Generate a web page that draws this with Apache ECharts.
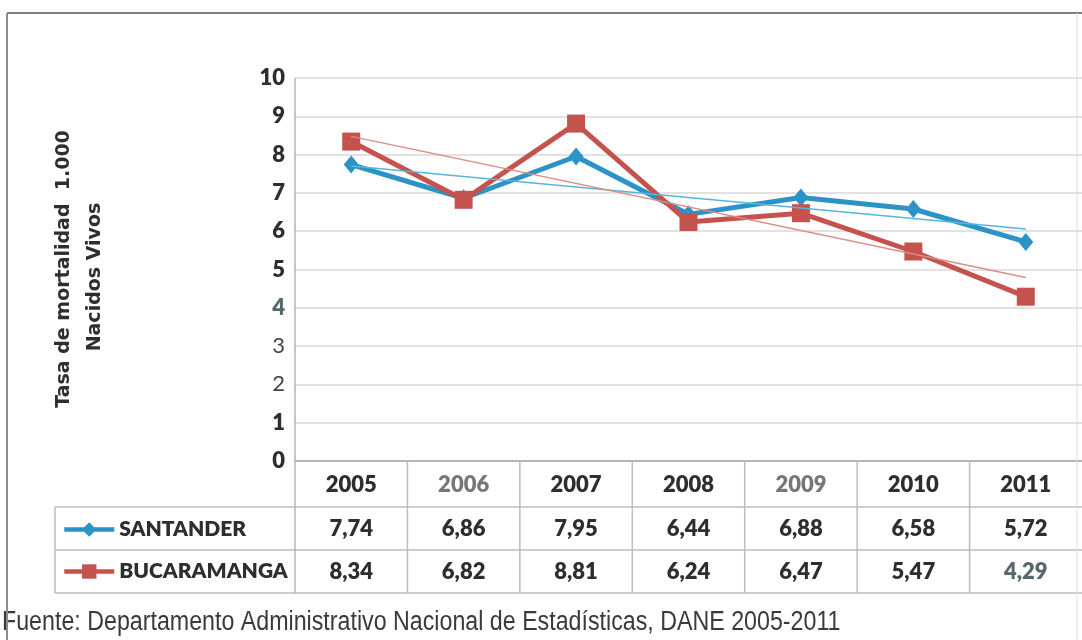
<!DOCTYPE html>
<html>
<head>
<meta charset="utf-8">
<script src="https://cdn.jsdelivr.net/npm/echarts@6/dist/echarts.min.js"></script>
<style>
  html, body { margin: 0; padding: 0; background: #ffffff; }
  #chart { width: 1082px; height: 640px; }
</style>
</head>
<body>
<div id="chart"></div>
<script>
// ---- data ----
const years = ['2005', '2006', '2007', '2008', '2009', '2010', '2011'];
const santander = [7.74, 6.86, 7.95, 6.44, 6.88, 6.58, 5.72];
const bucaramanga = [8.34, 6.82, 8.81, 6.24, 6.47, 5.47, 4.29];
const yTickLabels = ['0', '1', '2', '3', '4', '5', '6', '7', '8', '9', '10'];
const seriesNames = ['SANTANDER', 'BUCARAMANGA'];
const axisTitleLines = ['Tasa de mortalidad  1.000', 'Nacidos Vivos'];
const sourceNote = 'Fuente: Departamento Administrativo Nacional de Estadísticas, DANE 2005-2011';

// ---- style ----
const BLUE = '#2b93c6';
const RED = '#c4534d';
const BLUE_TREND = '#59b4dc';
const RED_TREND = '#dc8d86';
const TEXT = '#2e2e2e';
const LABEL_FONT = 'Lato, "Open Sans", sans-serif';
const LABEL_WEIGHT = 800;
const LABEL_SIZE = 22;

// least-squares linear trend, returned as its two end values
function linearTrend(values) {
  const n = values.length;
  const mx = (n - 1) / 2;
  const my = values.reduce((s, v) => s + v, 0) / n;
  let sxy = 0, sxx = 0;
  values.forEach((v, i) => { sxy += (i - mx) * (v - my); sxx += (i - mx) * (i - mx); });
  const slope = sxy / sxx;
  const out = values.map(() => null);
  out[0] = my - slope * mx;
  out[n - 1] = my + slope * (n - 1 - mx);
  return out;
}

const fmt = v => v.toFixed(2).replace('.', ',');

const chart = echarts.init(document.getElementById('chart'), null, { renderer: 'canvas' });

const option = {
  animation: false,
  backgroundColor: '#ffffff',
  grid: { left: 295, right: -6, top: 78, bottom: 179, containLabel: false },
  legend: {
    data: seriesNames,
    orient: 'vertical',
    left: 57,
    top: 514,
    padding: 5,
    itemWidth: 50,
    itemHeight: 18,
    itemGap: 21,
    selectedMode: false,
    lineStyle: { width: 4.5 },
    textStyle: { fontFamily: LABEL_FONT, fontWeight: LABEL_WEIGHT, fontSize: 21, color: TEXT }
  },
  xAxis: {
    type: 'category',
    data: years,
    boundaryGap: true,
    axisLine: { show: true, lineStyle: { color: '#a6a6a6', width: 1.5 } },
    axisTick: { show: false },
    axisLabel: {
      margin: 13,
      formatter: v => (v === '2006' || v === '2009') ? `{soft|${v}}` : `{hard|${v}}`,
      rich: {
        hard: { fontFamily: LABEL_FONT, fontWeight: LABEL_WEIGHT, fontSize: LABEL_SIZE, color: TEXT },
        soft: { fontFamily: LABEL_FONT, fontWeight: LABEL_WEIGHT, fontSize: LABEL_SIZE, color: '#777777' }
      }
    },
    splitLine: { show: false }
  },
  yAxis: {
    type: 'value',
    min: 0, max: 10, interval: 1,
    axisLine: { show: false },
    axisTick: { show: false },
    axisLabel: {
      margin: 10,
      formatter: v => {
        const t = yTickLabels[v];
        if (t === '2' || t === '3') return `{thin|${t}}`;
        if (t === '4') return `{tint|${t}}`;
        return `{hard|${t}}`;
      },
      rich: {
        hard: { fontFamily: LABEL_FONT, fontWeight: LABEL_WEIGHT, fontSize: LABEL_SIZE, color: TEXT },
        thin: { fontFamily: LABEL_FONT, fontWeight: 'normal', fontSize: LABEL_SIZE, color: '#444444' },
        tint: { fontFamily: LABEL_FONT, fontWeight: LABEL_WEIGHT, fontSize: LABEL_SIZE, color: '#56676d' }
      }
    },
    splitLine: { show: true, lineStyle: { color: '#d9d9d9', width: 1.5 } }
  },
  series: [
    {
      name: seriesNames[0],
      type: 'line',
      data: santander,
      symbol: 'diamond',
      symbolSize: [15, 18],
      itemStyle: { color: BLUE },
      lineStyle: { color: BLUE, width: 5 },
      z: 3
    },
    {
      name: seriesNames[1],
      type: 'line',
      data: bucaramanga,
      symbol: 'rect',
      symbolSize: 18,
      itemStyle: { color: RED },
      lineStyle: { color: RED, width: 5 },
      z: 4
    },
    {
      name: 'trend-santander',
      type: 'line',
      data: linearTrend(santander),
      connectNulls: true,
      symbol: 'none',
      lineStyle: { color: BLUE_TREND, width: 1.5 },
      z: 5
    },
    {
      name: 'trend-bucaramanga',
      type: 'line',
      data: linearTrend(bucaramanga),
      connectNulls: true,
      symbol: 'none',
      lineStyle: { color: RED_TREND, width: 1.5 },
      z: 5
    }
  ]
};

chart.setOption(option);

// ---- data table under the plot, frame, axis title and source note ----
function buildGraphics() {
  const cx = i => chart.convertToPixel({ xAxisIndex: 0 }, i);
  const band = cx(1) - cx(0);
  const plotLeft = cx(0) - band / 2;
  const plotRight = cx(years.length - 1) + band / 2;
  const plotTop = chart.convertToPixel({ yAxisIndex: 0 }, 10);
  const axisY = chart.convertToPixel({ yAxisIndex: 0 }, 0);
  const row1 = axisY + 46;         // bottom of the year row
  const row2 = row1 + 43;          // bottom of SANTANDER row
  const row3 = row2 + 43;          // bottom of BUCARAMANGA row
  const tableLeft = 55;
  const gridColor = '#bdbdbd';
  const els = [];

  const line = (x1, y1, x2, y2, color, w) => els.push({
    type: 'line', silent: true, z: 1,
    shape: { x1, y1, x2, y2 },
    style: { stroke: color || gridColor, lineWidth: w || 1.5 }
  });

  // table rules
  [row1, row2, row3].forEach(y => line(tableLeft, y, plotRight, y));
  line(tableLeft, row1, tableLeft, row3);
  line(plotLeft, plotTop, plotLeft, row3, '#b5b5b5');
  for (let i = 1; i < years.length; i++) {
    const x = cx(i) - band / 2;
    line(x, axisY, x, row3);
  }

  // table values
  const rows = [
    { vals: santander, y: (row1 + row2) / 2 },
    { vals: bucaramanga, y: (row2 + row3) / 2 }
  ];
  rows.forEach((r, ri) => {
    r.vals.forEach((v, i) => {
      const muted = ri === 1 && i === years.length - 1;
      els.push({
        type: 'text', silent: true, z: 2,
        x: cx(i), y: r.y,
        style: {
          text: fmt(v),
          fontFamily: LABEL_FONT, fontWeight: LABEL_WEIGHT, fontSize: LABEL_SIZE,
          fill: muted ? '#56676d' : TEXT,
          align: 'center', verticalAlign: 'middle'
        }
      });
    });
  });

  // outer frame
  line(7, 13, 1082, 13, '#7f7f7f', 2);
  line(7, 13, 7, 640, '#8c8c8c', 2);
  line(1077, 13, 1077, 640, '#dedede', 1);

  // vertical axis title (two lines)
  els.push({
    type: 'text', silent: true, x: 64, y: 269, rotation: Math.PI / 2,
    style: {
      text: axisTitleLines[0], fontFamily: '"DejaVu Sans", sans-serif', fontWeight: 'bold',
      fontSize: 19, fill: TEXT, align: 'center', verticalAlign: 'middle'
    }
  });
  els.push({
    type: 'text', silent: true, x: 95, y: 277, rotation: Math.PI / 2,
    style: {
      text: axisTitleLines[1], fontFamily: '"DejaVu Sans", sans-serif', fontWeight: 'bold',
      fontSize: 19, fill: TEXT, align: 'center', verticalAlign: 'middle'
    }
  });

  // source note in a condensed face
  els.push({
    type: 'text', silent: true, x: 2, y: 623, scaleX: 0.86,
    style: {
      text: sourceNote, fontFamily: '"Liberation Sans", Arial, sans-serif',
      fontSize: 27, fill: '#3a3a3a', align: 'left', verticalAlign: 'middle'
    }
  });

  chart.setOption({ graphic: { elements: els } });
}

buildGraphics();
</script>
</body>
</html>
